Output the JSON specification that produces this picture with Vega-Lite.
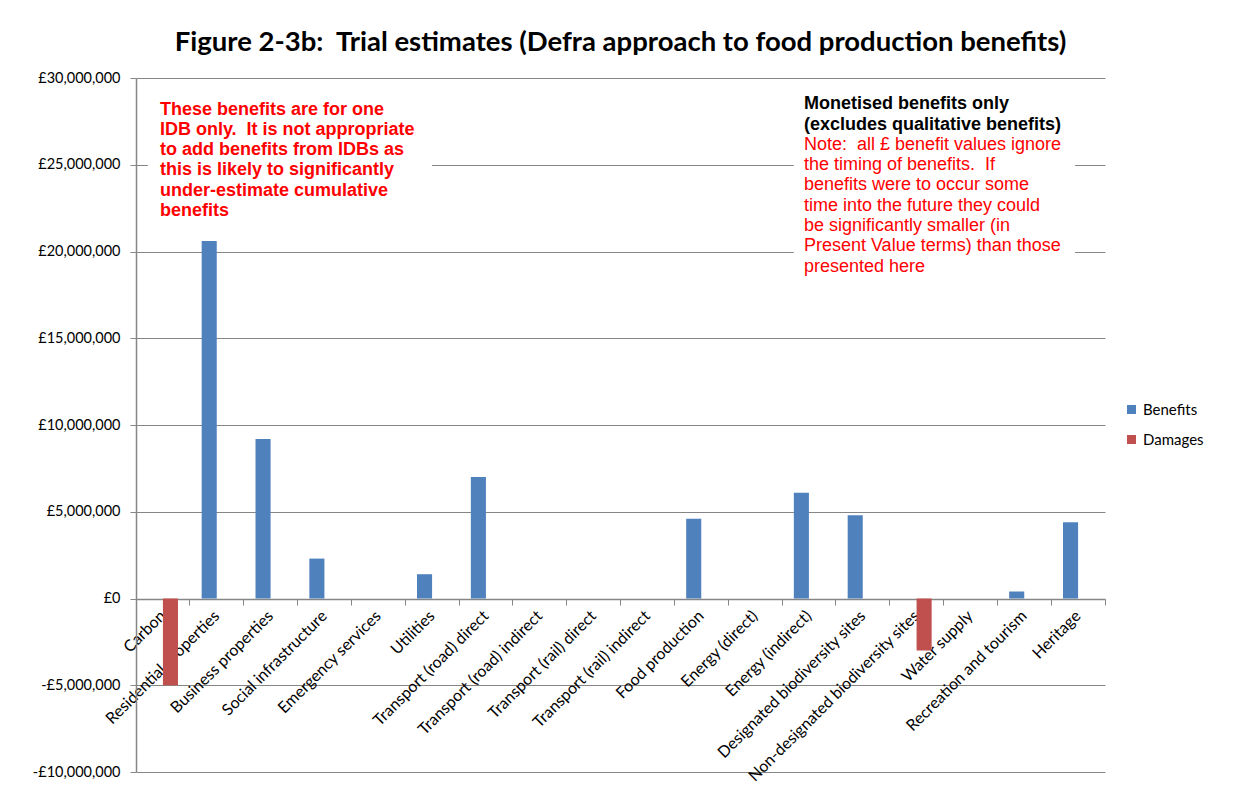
{
  "$schema": "https://vega.github.io/schema/vega-lite/v6.json",
  "width": 969,
  "height": 694,
  "autosize": "none",
  "padding": {"left": 136, "top": 78, "right": 135, "bottom": 15},
  "background": "white",
  "title": {
    "text": "Figure 2-3b:\u00a0 Trial estimates (Defra approach to food production benefits)",
    "font": "Lato",
    "fontSize": 27.5,
    "fontWeight": "bold",
    "color": "black",
    "anchor": "middle",
    "frame": "group",
    "baseline": "alphabetic",
    "offset": -8
  },
  "config": {
    "view": {"stroke": null},
    "legend": {"symbolStrokeWidth": 0}
  },
  "data": {
    "values": [
      {"category": "Carbon", "series": "Benefits", "value": 0},
      {"category": "Carbon", "series": "Damages", "value": -5000000},
      {"category": "Residential properties", "series": "Benefits", "value": 20600000},
      {"category": "Residential properties", "series": "Damages", "value": 0},
      {"category": "Business properties", "series": "Benefits", "value": 9200000},
      {"category": "Business properties", "series": "Damages", "value": 0},
      {"category": "Social infrastructure", "series": "Benefits", "value": 2300000},
      {"category": "Social infrastructure", "series": "Damages", "value": 0},
      {"category": "Emergency services", "series": "Benefits", "value": 0},
      {"category": "Emergency services", "series": "Damages", "value": 0},
      {"category": "Utilities", "series": "Benefits", "value": 1400000},
      {"category": "Utilities", "series": "Damages", "value": 0},
      {"category": "Transport (road) direct", "series": "Benefits", "value": 7000000},
      {"category": "Transport (road) direct", "series": "Damages", "value": 0},
      {"category": "Transport (road) indirect", "series": "Benefits", "value": 0},
      {"category": "Transport (road) indirect", "series": "Damages", "value": 0},
      {"category": "Transport (rail) direct", "series": "Benefits", "value": 0},
      {"category": "Transport (rail) direct", "series": "Damages", "value": 0},
      {"category": "Transport (rail) indirect", "series": "Benefits", "value": 0},
      {"category": "Transport (rail) indirect", "series": "Damages", "value": 0},
      {"category": "Food production", "series": "Benefits", "value": 4600000},
      {"category": "Food production", "series": "Damages", "value": 0},
      {"category": "Energy (direct)", "series": "Benefits", "value": 0},
      {"category": "Energy (direct)", "series": "Damages", "value": 0},
      {"category": "Energy (indirect)", "series": "Benefits", "value": 6100000},
      {"category": "Energy (indirect)", "series": "Damages", "value": 0},
      {"category": "Designated biodiversity sites", "series": "Benefits", "value": 4800000},
      {"category": "Designated biodiversity sites", "series": "Damages", "value": 0},
      {"category": "Non-designated biodiversity sites", "series": "Benefits", "value": 0},
      {"category": "Non-designated biodiversity sites", "series": "Damages", "value": -3000000},
      {"category": "Water supply", "series": "Benefits", "value": 0},
      {"category": "Water supply", "series": "Damages", "value": 0},
      {"category": "Recreation and tourism", "series": "Benefits", "value": 400000},
      {"category": "Recreation and tourism", "series": "Damages", "value": 0},
      {"category": "Heritage", "series": "Benefits", "value": 4400000},
      {"category": "Heritage", "series": "Damages", "value": 0}
    ]
  },
  "layer": [
    {
      "mark": {"type": "bar"},
      "encoding": {
        "x": {
          "field": "category",
          "type": "nominal",
          "sort": null,
          "scale": {
            "domain": ["Carbon", "Residential properties", "Business properties", "Social infrastructure", "Emergency services", "Utilities", "Transport (road) direct", "Transport (road) indirect", "Transport (rail) direct", "Transport (rail) indirect", "Food production", "Energy (direct)", "Energy (indirect)", "Designated biodiversity sites", "Non-designated biodiversity sites", "Water supply", "Recreation and tourism", "Heritage"],
            "paddingInner": 0.44,
            "paddingOuter": 0.22
          },
          "axis": {
            "title": null,
            "orient": "bottom",
            "offset": -173,
            "bandPosition": 1.393,
            "grid": false,
            "labelAngle": -45,
            "labelAlign": "right",
            "labelBaseline": "middle",
            "labelPadding": 8,
            "labelOverlap": false,
            "labelLimit": 0,
            "labelFont": "Lato",
            "labelFontSize": 16,
            "labelColor": "black",
            "tickSize": 6,
            "tickColor": "#868686",
            "domainColor": "#868686",
            "domainWidth": 1.5
          }
        },
        "xOffset": {
          "field": "series",
          "type": "nominal",
          "scale": {"domain": ["Benefits", "Damages"], "paddingInner": 0, "paddingOuter": 0}
        },
        "y": {
          "field": "value",
          "type": "quantitative",
          "scale": {"domain": [-10000000, 30000000], "nice": false, "zero": true},
          "axis": {
            "title": null,
            "values": [-10000000, -5000000, 0, 5000000, 10000000, 15000000, 20000000, 25000000, 30000000],
            "labelExpr": "(datum.value < 0 ? '-' : '') + '£' + format(abs(datum.value), ',')",
            "grid": true,
            "gridColor": "#868686",
            "gridWidth": 1,
            "domainColor": "#868686",
            "domainWidth": 1.5,
            "tickColor": "#868686",
            "tickSize": 6,
            "labelPadding": 10,
            "labelFont": "Lato",
            "labelFontSize": 14.5,
            "labelColor": "black"
          }
        },
        "color": {
          "field": "series",
          "type": "nominal",
          "scale": {"domain": ["Benefits", "Damages"], "range": ["#4F81BD", "#C0504D"]},
          "legend": {
            "title": null,
            "orient": "none",
            "legendX": 988,
            "legendY": 324,
            "symbolType": "square",
            "symbolSize": 81,
            "symbolOpacity": 1,
            "labelFont": "Lato",
            "labelFontSize": 15,
            "labelColor": "black",
            "labelOffset": 4,
            "rowPadding": 14
          }
        }
      }
    },
    {
      "data": {"values": [{}]},
      "mark": {"type": "rect", "color": "white"},
      "encoding": {
        "x": {"datum": "Carbon", "type": "nominal", "bandPosition": 0},
        "x2": {"datum": "Utilities", "bandPosition": 0.5},
        "y": {"datum": 29450000, "type": "quantitative"},
        "y2": {"datum": 21560000}
      }
    },
    {
      "data": {"values": [{}]},
      "mark": {"type": "rect", "color": "white"},
      "encoding": {
        "x": {"datum": "Energy (indirect)", "type": "nominal", "bandPosition": 0},
        "x2": {"datum": "Heritage", "bandPosition": 0.4},
        "y": {"datum": 29450000, "type": "quantitative"},
        "y2": {"datum": 18390000}
      }
    },
    {
      "data": {"values": [{}]},
      "mark": {
        "type": "text",
        "text": ["These benefits are for one", "IDB only.\u00a0 It is not appropriate", "to add benefits from IDBs as", "this is likely to significantly", "under-estimate cumulative", "benefits"],
        "align": "left",
        "baseline": "alphabetic",
        "font": "Liberation Sans",
        "fontSize": 18,
        "fontWeight": "bold",
        "color": "#FF0000",
        "lineHeight": 20.3,
        "dx": -3
      },
      "encoding": {
        "x": {"datum": "Carbon", "type": "nominal"},
        "y": {"datum": 27896000, "type": "quantitative"}
      }
    },
    {
      "data": {"values": [{}]},
      "mark": {
        "type": "text",
        "text": ["Monetised benefits only", "(excludes qualitative benefits)"],
        "align": "left",
        "baseline": "alphabetic",
        "font": "Liberation Sans",
        "fontSize": 18,
        "fontWeight": "bold",
        "color": "black",
        "lineHeight": 20.3,
        "dx": -5
      },
      "encoding": {
        "x": {"datum": "Energy (indirect)", "type": "nominal"},
        "y": {"datum": 28185000, "type": "quantitative"}
      }
    },
    {
      "data": {"values": [{}]},
      "mark": {
        "type": "text",
        "text": ["Note:\u00a0 all £ benefit values ignore", "the timing of benefits.\u00a0 If", "benefits were to occur some", "time into the future they could", "be significantly smaller (in", "Present Value terms) than those", "presented here"],
        "align": "left",
        "baseline": "alphabetic",
        "font": "Liberation Sans",
        "fontSize": 18,
        "color": "#FF0000",
        "lineHeight": 20.3,
        "dx": -5
      },
      "encoding": {
        "x": {"datum": "Energy (indirect)", "type": "nominal"},
        "y": {"datum": 25856000, "type": "quantitative"}
      }
    }
  ]
}
